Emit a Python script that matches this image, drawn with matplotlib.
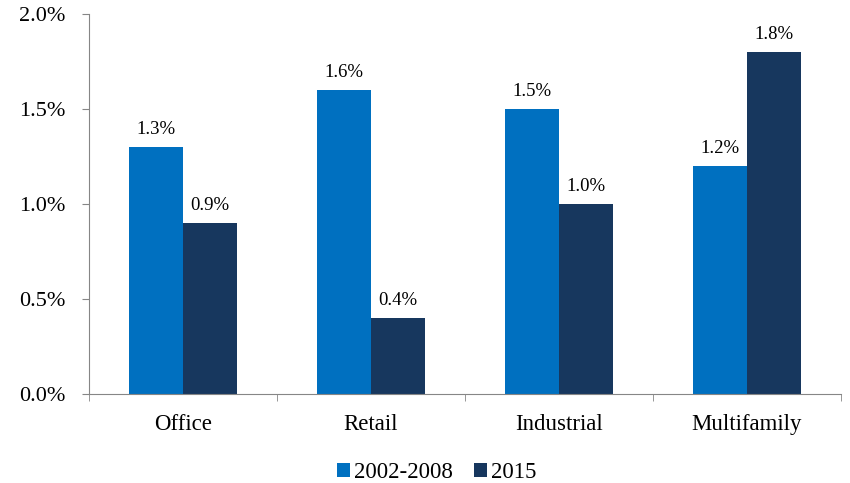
import matplotlib.pyplot as plt
import numpy as np
from matplotlib.ticker import FixedLocator, PercentFormatter

categories = ['Office', 'Retail', 'Industrial', 'Multifamily']
series_names = ['2002-2008', '2015']
vals_2002_2008 = [1.3, 1.6, 1.5, 1.2]
vals_2015 = [0.9, 0.4, 1.0, 1.8]

plt.rcParams['font.family'] = ['Liberation Serif', 'DejaVu Serif']

fig = plt.figure(figsize=(8.5, 4.83), dpi=100)
ax = fig.add_axes([0.1047, 0.184, 0.8847, 0.787])

x = np.arange(len(categories))
w = 0.287
b1 = ax.bar(x - w / 2, vals_2002_2008, w, color='#0070C0', label=series_names[0])
b2 = ax.bar(x + w / 2, vals_2015, w, color='#17375E', label=series_names[1])

for bars, vals in ((b1, vals_2002_2008), (b2, vals_2015)):
    for r, v in zip(bars, vals):
        ax.annotate(f'{v:.1f}%', (r.get_x() + r.get_width() / 2, v),
                    xytext=(0, 9), textcoords='offset pixels',
                    ha='center', va='bottom', fontsize=13.5)

ax.set_xlim(-0.5, 3.5)
ax.set_ylim(0, 2.0)
ax.set_yticks([0, 0.5, 1.0, 1.5, 2.0])
ax.yaxis.set_major_formatter(PercentFormatter(decimals=1))
ax.set_xticks(x)
ax.set_xticklabels(categories)
ax.xaxis.set_minor_locator(FixedLocator([-0.5, 0.5, 1.5, 2.5, 3.5]))

for s in ['top', 'right']:
    ax.spines[s].set_visible(False)
for s in ['left', 'bottom']:
    ax.spines[s].set_color('#868686')
ax.tick_params(axis='x', which='major', length=0, pad=14, labelsize=16.5)
ax.tick_params(axis='x', which='minor', length=5, color='#868686')
ax.tick_params(axis='y', length=5, color='#868686', labelsize=16, pad=12)

fig.legend(handles=[b1, b2], labels=series_names, loc='center',
           bbox_to_anchor=(0.514, 0.022), ncol=2, frameon=False,
           fontsize=16.5, handlelength=0.55, handleheight=0.55, handletextpad=0.2,
           columnspacing=0.9, borderpad=0.05)

fig.savefig('out.png', dpi=100)
